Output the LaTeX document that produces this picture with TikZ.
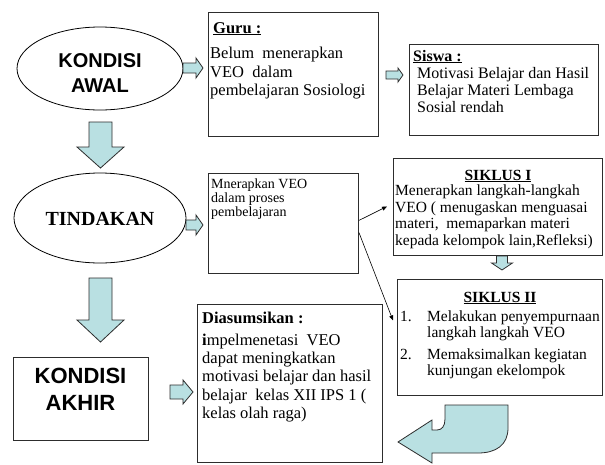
\documentclass[tikz,border=0pt]{standalone}
\usepackage{fontspec}
\setmainfont{Liberation Serif}
\newfontfamily\arialfont{Liberation Sans}
\newfontfamily\timesfont{Liberation Serif}
\usetikzlibrary{shapes.geometric,arrows.meta}
\definecolor{afill}{RGB}{185,224,226}
\definecolor{edgec}{RGB}{45,45,45}
\newcommand\fs[2]{\fontsize{#1}{#2}\selectfont}
\newcommand\HArrow[6]{\draw[barrow] (#1,#2-#4) -- (#3-#6,#2-#4) -- (#3-#6,#2-#5) -- (#3,#2) -- (#3-#6,#2+#5) -- (#3-#6,#2+#4) -- (#1,#2+#4) -- cycle;}
\newcommand\VArrow[6]{\draw[barrow] (#1-#4,#2) -- (#1-#4,#3-#6) -- (#1-#5,#3-#6) -- (#1,#3) -- (#1+#5,#3-#6) -- (#1+#4,#3-#6) -- (#1+#4,#2) -- cycle;}
\begin{document}
\begin{tikzpicture}[x=1pt,y=-1pt,
  barrow/.style={draw=edgec,fill=afill,line width=0.8pt,line join=miter},
  boxn/.style={draw=edgec,line width=0.9pt,inner sep=0,anchor=north west},
  ell/.style={draw=black,line width=0.8pt,ellipse,inner sep=0},
  txt/.style={inner sep=0,align=left,text=black},
  ln/.style={draw=black,line width=0.6pt,-{Triangle[length=5pt,width=4pt]}}]
\fill[white] (0,0) rectangle (605,464);
\useasboundingbox (0,0) rectangle (605,464);

% ellipses and boxes
\node[ell,minimum width=166pt,minimum height=83pt] (awal) at (100,68.5) {};
\node[ell,minimum width=172pt,minimum height=90pt] (tind) at (100,218) {};
\node[boxn,minimum width=135pt,minimum height=83pt] (akhir) at (13,357) {};
\node[boxn,minimum width=170pt,minimum height=124pt] (guru) at (208,12) {};
\node[boxn,minimum width=189pt,minimum height=91pt] (siswa) at (409,44) {};
\node[boxn,minimum width=150pt,minimum height=100pt] (mner) at (208,173) {};
\node[boxn,minimum width=209pt,minimum height=97pt] (sik1) at (393,158) {};
\node[boxn,minimum width=205pt,minimum height=116pt] (sik2) at (397,279) {};
\node[boxn,minimum width=185pt,minimum height=158pt] (asum) at (197,304) {};

% labels in ellipses / box
\node[txt,align=center,font=\arialfont\bfseries\fs{20}{25}] (awalt) at (100,73) {KONDISI\\AWAL};
\node[txt,font=\timesfont\bfseries\fs{20}{24}] (tindt) at (100,219) {TINDAKAN};
\node[txt,align=center,font=\arialfont\bfseries\fs{22}{27}] (akhirt) at (80.5,389) {KONDISI\\AKHIR};

% Guru
\node[txt,anchor=base west,font=\bfseries\fs{16.5}{18.5}] (gurut) at (213,33) {\underline{Guru :}};
\node[txt,anchor=north west,font=\fs{16.5}{18.6}] (gurub) at (210,47) {Belum\ \ menerapkan\\VEO\ \ dalam\\pembelajaran Sosiologi};

% Siswa
\node[txt,anchor=base west,font=\bfseries\fs{16}{17.5}] (siswat) at (413,61) {\underline{Siswa :}};
\node[txt,anchor=north west,font=\fs{16}{17.3}] (siswab) at (417,67) {Motivasi Belajar dan Hasil\\Belajar Materi Lembaga\\Sosial rendah};

% Mnerapkan
\node[txt,anchor=north west,font=\fs{14}{13.8}] (mnerb) at (211,178.5) {Mnerapkan VEO\\dalam proses\\pembelajaran};

% Siklus I
\node[txt,anchor=base,font=\bfseries\fs{15.5}{16.7}] (sik1t) at (498,180) {\underline{SIKLUS I}};
\node[txt,anchor=north west,font=\fs{15.5}{16.7}] (sik1b) at (395,184.5) {Menerapkan langkah-langkah\\VEO ( menugaskan menguasai\\materi,\ \ memaparkan materi\\kepada kelompok lain,Refleksi)};

% Siklus II
\node[txt,anchor=base,font=\bfseries\fs{15.5}{16.5}] (sik2t) at (500,302) {\underline{SIKLUS II}};
\node[txt,anchor=base west,font=\fs{15.5}{16.5}] (n1) at (400,321) {1.};
\node[txt,anchor=north west,font=\fs{15.5}{16.5}] (i1) at (427,310.4) {Melakukan penyempurnaan\\langkah langkah VEO};
\node[txt,anchor=base west,font=\fs{15.5}{16.5}] (n2) at (400,359) {2.};
\node[txt,anchor=north west,font=\fs{15.5}{16.5}] (i2) at (427,348.4) {Memaksimalkan kegiatan\\kunjungan ekelompok};

% Diasumsikan
\node[txt,anchor=base west,font=\bfseries\fs{16.5}{18.3}] (asumt) at (202,323) {Diasumsikan :};
\node[txt,anchor=north west,font=\fs{16.5}{18.3}] (asumb) at (202,333.7) {\textbf{i}mpelmenetasi\ \ VEO\\dapat meningkatkan\\motivasi belajar dan hasil\\belajar\ \ kelas XII IPS 1 (\\kelas olah raga)};

% block arrows
\HArrow{183}{68}{203}{5}{10}{7}
\HArrow{386}{75}{403}{4}{7}{5}
\VArrow{100.5}{122}{168}{11.5}{23.5}{21}
\HArrow{186}{225}{203}{5}{10}{7}
\VArrow{100.5}{278}{342}{11.5}{23.5}{22}
\HArrow{170}{392}{193}{7}{12}{10}
\VArrow{502}{256}{270}{5.5}{10.5}{7}
\draw[barrow] (445,405) -- (508,405) -- (508,428)
  .. controls (508,445) and (496,453) .. (478,453) -- (432,453) -- (432,463)
  -- (398,442) -- (432,420) -- (432,430) -- (437,430)
  .. controls (442,430) and (445,426) .. (445,419) -- cycle;

% thin connectors
\draw[ln] ([yshift=3pt]mner.east) -- ([xshift=-6pt,yshift=0.5pt]sik1.west);
\draw[ln] ([yshift=-9pt]mner.east) -- ([xshift=-4pt,yshift=17pt]sik2.west);
\end{tikzpicture}
\end{document}
